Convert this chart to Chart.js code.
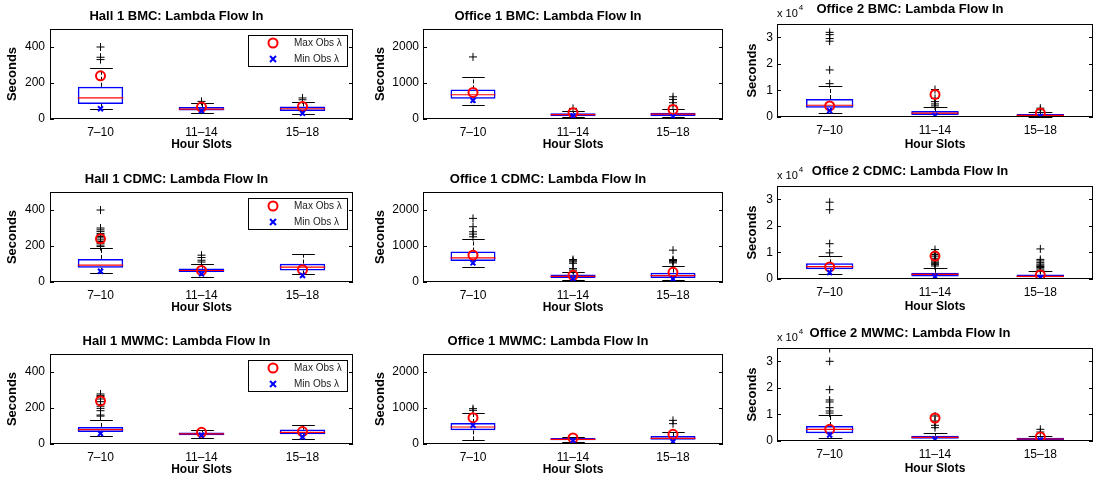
<!DOCTYPE html>
<html>
<head>
<meta charset="utf-8">
<script src="https://cdn.jsdelivr.net/npm/chart.js@4"></script>
<style>
body{margin:0;background:#fff;width:1097px;height:478px;position:relative;overflow:hidden}
canvas{position:absolute}
</style>
</head>
<body>
<script>
var FONT = '"Liberation Sans", Arial, Helvetica, sans-serif';

var slots = ['7\u201310', '11\u201314', '15\u201318'];
var panelTitles = [
    'Hall 1 BMC: Lambda Flow In', 'Office 1 BMC: Lambda Flow In', 'Office 2 BMC: Lambda Flow In',
    'Hall 1 CDMC: Lambda Flow In', 'Office 1 CDMC: Lambda Flow In', 'Office 2 CDMC: Lambda Flow In',
    'Hall 1 MWMC: Lambda Flow In', 'Office 1 MWMC: Lambda Flow In', 'Office 2 MWMC: Lambda Flow In'
];

// y axis per column (Hall 1, Office 1, Office 2)
var yMax = [500, 2500, 35000];
var yTicks = [[0, 200, 400], [0, 1000, 2000], [0, 10000, 20000, 30000]];
var yDivisor = [1, 1, 10000];

// one row per panel, one value per hour slot
var q1 = [
    [83, 47, 45], [562, 83, 83], [3444, 738, 246],
    [79, 55, 64], [586, 112, 112], [3690, 984, 615],
    [67, 49, 54], [380, 102, 120], [2887, 879, 377]
];
var q3 = [
    [179, 66, 70], [821, 157, 175], [6765, 2214, 1107],
    [128, 75, 102], [846, 205, 260], [5904, 2337, 1722],
    [95, 64, 80], [583, 167, 222], [5648, 2008, 1255]
];
var medians = [
    [117, 55, 57], [673, 120, 138], [4428, 1476, 615],
    [94, 64, 83], [670, 158, 177], [4674, 1722, 984],
    [80, 56, 65], [472, 130, 157], [4393, 1381, 753]
];
var whiskerLow = [
    [55, 36, 28], [387, 65, 55], [1476, 246, 123],
    [49, 30, 42], [409, 65, 65], [1845, 492, 246],
    [43, 36, 30], [102, 65, 37], [1255, 377, 251]
];
var whiskerHigh = [
    [281, 89, 92], [1162, 212, 286], [11562, 3690, 1722],
    [187, 100, 155], [1181, 270, 456], [8733, 4305, 2829],
    [133, 80, 108], [870, 194, 343], [9915, 3012, 1883]
];
var maxObs = [
    [240, 66, 70], [738, 175, 267], [4182, 8487, 1476],
    [240, 64, 68], [744, 186, 270], [4551, 8610, 1476],
    [239, 65, 69], [732, 167, 269], [4393, 8660, 1506]
];
var minObs = [
    [57, 45, 32], [516, 83, 65], [2337, 492, 246],
    [60, 45, 36], [530, 93, 84], [2460, 861, 492],
    [58, 49, 39], [519, 93, 65], [2259, 628, 377]
];
var outliers = [
    [[400, 343, 330], [98], [117, 107]],
    [[1724], [295], [618, 544, 452, 378]],
    [[31857, 30996, 29520, 28536, 17712, 12546], [10332, 7011, 5781, 4920, 4182], [3321, 2706]],
    [[400, 300, 290, 281, 270, 262, 253, 245, 234, 225, 215, 205, 197], [149, 136, 121, 111], []],
    [[1767, 1535, 1395, 1330, 1256], [623, 590, 558, 520, 372, 330], [884, 623, 600, 586, 560, 530]],
    [[28905, 26076, 13284, 9840], [11070, 9840, 9200, 8610, 7800, 7200, 6765, 6300, 5904, 5400, 4900], [11316, 7380, 6800, 6150, 5600, 5166, 4700, 4305, 3800, 3300]],
    [[278, 270, 264, 250, 235, 220, 210, 198, 185, 161, 155], [], []],
    [[982, 935], [], [657, 565]],
    [[34800, 29995, 19327, 15437, 14684, 12550, 11295, 10500], [9413, 7530, 5899, 5020], [4393, 3389]]
];

// panel placement on the page
var colLeft = [50, 423, 777];
var colRight = [353, 723, 1093];
var rowTop = [[29, 192, 354], [29, 192, 354], [24, 186, 348]];
var plotH = [90, 90, 93];
var axisH = [34, 34, 36];
var titlePad = [{top: 5, bottom: 6}, {top: 5, bottom: 6}, {top: 3, bottom: 8}];
var yTitlePad = [5, 0, 18];
var yTickPad = [5, 4, 4];
var BOX = 0.45;

// whiskers (dashed) and caps, drawn under the boxes
var whiskerPlugin = {
    id: 'whiskers',
    beforeDatasetsDraw: function(chart, args, opts) {
        var x = chart.scales.x, y = chart.scales.y, ctx = chart.ctx;
        var cap = x.width / slots.length * BOX / 4;
        ctx.save();
        ctx.strokeStyle = '#000';
        ctx.lineWidth = 1;
        opts.low.forEach(function(lo, i) {
            var px = Math.round(x.getPixelForValue(i)) + 0.5;
            var yLo = Math.round(y.getPixelForValue(lo)) + 0.5;
            var yHi = Math.round(y.getPixelForValue(opts.high[i])) + 0.5;
            var yQ1 = y.getPixelForValue(opts.q1[i]);
            var yQ3 = y.getPixelForValue(opts.q3[i]);
            ctx.setLineDash([4, 2]);
            ctx.beginPath();
            ctx.moveTo(px, yQ3); ctx.lineTo(px, yHi);
            ctx.moveTo(px, yQ1); ctx.lineTo(px, yLo);
            ctx.stroke();
            ctx.setLineDash([]);
            ctx.beginPath();
            ctx.moveTo(px - cap, yHi); ctx.lineTo(px + cap, yHi);
            ctx.moveTo(px - cap, yLo); ctx.lineTo(px + cap, yLo);
            ctx.stroke();
        });
        ctx.restore();
    }
};

// axes frame with inward ticks, legend box and the x 10^4 multiplier
var framePlugin = {
    id: 'frame',
    afterDraw: function(chart, args, opts) {
        var a = chart.chartArea, ctx = chart.ctx, y = chart.scales.y;
        ctx.save();
        ctx.strokeStyle = '#000';
        ctx.lineWidth = 1;
        ctx.strokeRect(a.left + 0.5, a.top + 0.5, a.right - a.left - 1, a.bottom - a.top - 1);
        ctx.beginPath();
        y.ticks.forEach(function(t) {
            var py = Math.round(y.getPixelForValue(t.value)) + 0.5;
            ctx.moveTo(a.left, py); ctx.lineTo(a.left + 4, py);
            ctx.moveTo(a.right, py); ctx.lineTo(a.right - 4, py);
        });
        ctx.stroke();

        if (opts.legend) {
            var lx = a.right - 105, ly = a.top + 6;
            ctx.fillStyle = '#fff';
            ctx.fillRect(lx, ly, 99, 31);
            ctx.strokeRect(lx + 0.5, ly + 0.5, 99, 31);
            ctx.lineWidth = 2;
            ctx.strokeStyle = '#ff0000';
            ctx.beginPath();
            ctx.arc(lx + 25, ly + 8, 4.5, 0, Math.PI * 2);
            ctx.stroke();
            ctx.strokeStyle = '#0000ff';
            ctx.beginPath();
            ctx.moveTo(lx + 22, ly + 21); ctx.lineTo(lx + 28, ly + 27);
            ctx.moveTo(lx + 28, ly + 21); ctx.lineTo(lx + 22, ly + 27);
            ctx.stroke();
            ctx.fillStyle = '#222';
            ctx.font = '10px ' + FONT;
            ctx.textBaseline = 'middle';
            ctx.fillText('Max Obs \u03bb', lx + 46, ly + 8);
            ctx.fillText('Min Obs \u03bb', lx + 46, ly + 24);
        }

        if (opts.exponent) {
            ctx.fillStyle = '#000';
            ctx.textBaseline = 'middle';
            ctx.font = '11px ' + FONT;
            ctx.fillText('x 10', a.left, a.top - 10);
            var w = ctx.measureText('x 10').width;
            ctx.font = '8px ' + FONT;
            ctx.fillText('4', a.left + w + 1, a.top - 16);
        }
        ctx.restore();
    }
};

function makePanel(p) {
    var r = Math.floor(p / 3), c = p % 3;
    var L = colLeft[c], R = colRight[c], T = rowTop[c][r];
    var w = R - L + 55, h = 25 + plotH[c] + axisH[c];
    var canvas = document.createElement('canvas');
    canvas.width = w; canvas.height = h;
    canvas.style.left = (L - 50) + 'px';
    canvas.style.top = (T - 25) + 'px';
    canvas.style.width = w + 'px';
    canvas.style.height = h + 'px';
    document.body.appendChild(canvas);

    var half = (R - L) / slots.length * BOX / 2;
    var boxes = q1[p].map(function(v, i) { return [v, q3[p][i]]; });
    var outPts = [];
    outliers[p].forEach(function(list, i) {
        list.forEach(function(v) { outPts.push({x: slots[i], y: v}); });
    });

    new Chart(canvas, {
        type: 'bar',
        data: {
            labels: slots,
            datasets: [
                {
                    type: 'line', label: 'Min Obs \u03bb', data: minObs[p], order: 0,
                    showLine: false, pointStyle: 'crossRot', pointRadius: 3.5,
                    pointBorderColor: '#0000ff', pointBackgroundColor: '#0000ff', pointBorderWidth: 2
                },
                {
                    type: 'line', label: 'Max Obs \u03bb', data: maxObs[p], order: 1,
                    showLine: false, pointStyle: 'circle', pointRadius: 4.5,
                    pointBorderColor: '#ff0000', pointBackgroundColor: 'rgba(0,0,0,0)', pointBorderWidth: 2
                },
                {
                    type: 'line', label: 'Median', data: medians[p], order: 2,
                    showLine: false, pointStyle: 'line', pointRadius: half,
                    pointBorderColor: '#ff0000', pointBorderWidth: 1.2
                },
                {
                    type: 'bar', label: 'Box', data: boxes, order: 3,
                    backgroundColor: 'rgba(0,0,0,0)', borderColor: '#0000ff', borderWidth: 1.5,
                    borderSkipped: false, barPercentage: BOX, categoryPercentage: 1, grouped: false
                },
                {
                    type: 'line', label: 'Outliers', data: outPts, order: 4,
                    showLine: false, pointStyle: 'cross', pointRadius: 4,
                    pointBorderColor: '#000', pointBorderWidth: 1
                }
            ]
        },
        options: {
            responsive: false,
            animation: false,
            events: [],
            layout: { autoPadding: false, padding: { left: 0, right: 5, top: 0, bottom: 0 } },
            scales: {
                x: {
                    type: 'category',
                    offset: true,
                    grid: { display: false, drawTicks: false },
                    border: { display: false },
                    ticks: { color: '#000', padding: 7, maxRotation: 0, autoSkip: false,
                             font: { family: FONT, size: 12, lineHeight: 14 / 12 } },
                    title: { display: true, text: 'Hour Slots', color: '#000',
                             padding: { top: 0, bottom: 1 },
                             font: { family: FONT, size: 12, weight: 'bold', lineHeight: 14 / 12 } },
                    afterFit: function(s) {
                        s.height = axisH[c];
                        s.paddingLeft = 0;
                        s.paddingRight = 0;
                    }
                },
                y: {
                    type: 'linear',
                    min: 0,
                    max: yMax[c],
                    grid: { display: false, drawTicks: false },
                    border: { display: false },
                    ticks: { color: '#000', padding: yTickPad[c],
                             font: { family: FONT, size: 12 },
                             callback: function(v) { return v / yDivisor[c]; } },
                    title: { display: true, text: 'Seconds', color: '#000',
                             padding: { top: yTitlePad[c], bottom: 0 },
                             font: { family: FONT, size: 13, weight: 'bold' } },
                    afterBuildTicks: function(s) {
                        s.ticks = yTicks[c].map(function(v) { return { value: v }; });
                    },
                    afterFit: function(s) {
                        s.width = 50;
                        s.paddingTop = 0;
                        s.paddingBottom = 0;
                    }
                }
            },
            plugins: {
                legend: { display: false },
                tooltip: { enabled: false },
                title: {
                    display: true, text: panelTitles[p], color: '#000', padding: titlePad[c],
                    font: { family: FONT, size: 13, weight: 'bold', lineHeight: 14 / 13 }
                },
                whiskers: { low: whiskerLow[p], high: whiskerHigh[p], q1: q1[p], q3: q3[p] },
                frame: { legend: c === 0, exponent: c === 2 }
            }
        },
        plugins: [whiskerPlugin, framePlugin]
    });
}

for (var p = 0; p < panelTitles.length; p++) {
    makePanel(p);
}
</script>
</body>
</html>
